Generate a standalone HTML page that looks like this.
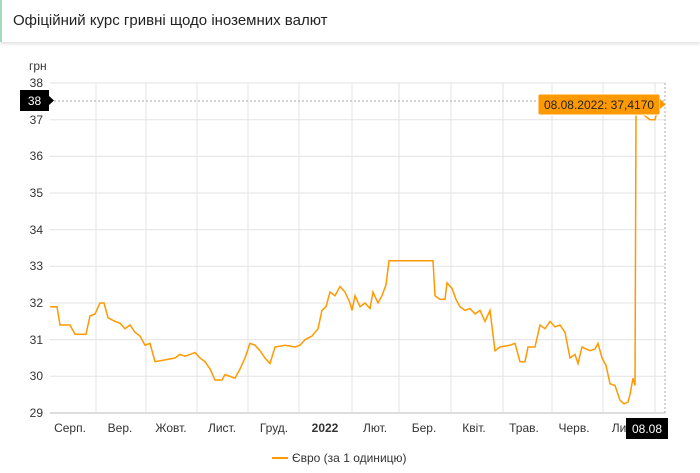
<!DOCTYPE html>
<html><head><meta charset="utf-8"><style>
body{margin:0;background:#fff;width:700px;height:473px;overflow:hidden;font-family:"Liberation Sans",sans-serif}
.hdr{position:absolute;left:0;top:0;width:700px;height:42px;border-left:2px solid #9fdcc0;box-shadow:0 2px 3px rgba(0,0,0,.12);box-sizing:border-box}
.hdr span{position:absolute;left:11px;top:12px;font-size:15px;color:#222}
</style></head><body>
<div class="hdr"><span>Офіційний курс гривні щодо іноземних валют</span></div>
<svg width="700" height="473" style="position:absolute;left:0;top:0" font-family="Liberation Sans, sans-serif">
<g stroke="#e3e3e3" stroke-width="1">
<line x1="50" y1="83" x2="665" y2="83"/><line x1="50" y1="119.7" x2="665" y2="119.7"/>
<line x1="50" y1="156.3" x2="665" y2="156.3"/><line x1="50" y1="193" x2="665" y2="193"/>
<line x1="50" y1="229.7" x2="665" y2="229.7"/><line x1="50" y1="266.3" x2="665" y2="266.3"/>
<line x1="50" y1="303" x2="665" y2="303"/><line x1="50" y1="339.7" x2="665" y2="339.7"/>
<line x1="50" y1="376.3" x2="665" y2="376.3"/>
<line x1="96" y1="83" x2="96" y2="413"/><line x1="146" y1="83" x2="146" y2="413"/>
<line x1="197" y1="83" x2="197" y2="413"/><line x1="248" y1="83" x2="248" y2="413"/>
<line x1="299" y1="83" x2="299" y2="413"/><line x1="352" y1="83" x2="352" y2="413"/>
<line x1="399" y1="83" x2="399" y2="413"/><line x1="451" y1="83" x2="451" y2="413"/>
<line x1="503" y1="83" x2="503" y2="413"/><line x1="552" y1="83" x2="552" y2="413"/>
<line x1="603" y1="83" x2="603" y2="413"/><line x1="655" y1="83" x2="655" y2="413"/>
</g>
<line x1="50" y1="413" x2="665" y2="413" stroke="#ddd" stroke-width="2"/>
<line x1="50" y1="101" x2="665" y2="101" stroke="#aaa" stroke-dasharray="2,2"/>
<line x1="665" y1="83" x2="665" y2="413" stroke="#aaa" stroke-dasharray="2,2"/>
<g font-size="12" fill="#333" text-anchor="end">
<text x="43" y="87">38</text><text x="43" y="124">37</text><text x="43" y="160">36</text>
<text x="43" y="197">35</text><text x="43" y="234">34</text><text x="43" y="270">33</text>
<text x="43" y="307">32</text><text x="43" y="344">31</text><text x="43" y="380">30</text>
<text x="43" y="417">29</text>
</g>
<text x="29" y="70" font-size="12" fill="#333">грн</text>
<g font-size="12" fill="#333" text-anchor="middle">
<text x="70" y="432">Серп.</text><text x="120" y="432">Вер.</text><text x="171" y="432">Жовт.</text>
<text x="222" y="432">Лист.</text><text x="274" y="432">Груд.</text><text x="325" y="432" font-weight="bold">2022</text>
<text x="375" y="432">Лют.</text><text x="424" y="432">Бер.</text><text x="474" y="432">Квіт.</text>
<text x="524" y="432">Трав.</text><text x="574" y="432">Черв.</text><text x="624" y="432">Лип.</text>
</g>
<path id="ln" fill="none" stroke="#f90" stroke-width="1.5"/>
<rect x="20" y="90" width="29" height="21" fill="#000"/><path d="M49 96 L54 100.5 L49 105Z" fill="#000"/>
<text x="34.5" y="105" font-size="12" fill="#fff" text-anchor="middle">38</text>
<rect x="626" y="418" width="42" height="21" fill="#000"/>
<text x="647" y="433" font-size="12" fill="#fff" text-anchor="middle">08.08</text>
<rect x="538" y="94" width="122" height="21" rx="2" fill="#f90" stroke="#fff" stroke-width="1"/>
<path d="M660 99 L665 104 L660 109Z" fill="#f90"/>
<text x="599" y="109" font-size="12" fill="#222" text-anchor="middle">08.08.2022: 37,4170</text>
<line x1="272" y1="458" x2="288" y2="458" stroke="#f90" stroke-width="2"/>
<text x="292" y="462" font-size="12" fill="#333">Євро (за 1 одиницю)</text>
</svg>
<script>
var d=[50,31.9,57,31.9,60,31.4,70,31.4,75,31.15,86,31.15,90,31.65,95,31.7,100,32,104,32,108,31.6,115,31.5,120,31.45,125,31.3,130,31.4,135,31.2,140,31.1,145,30.85,150,30.9,155,30.4,165,30.45,175,30.5,180,30.6,185,30.55,190,30.6,195,30.65,200,30.5,205,30.4,210,30.2,215,29.9,222,29.9,225,30.05,235,29.95,240,30.2,245,30.5,250,30.9,255,30.85,260,30.7,265,30.5,270,30.35,275,30.8,285,30.85,295,30.8,300,30.85,305,31,312,31.1,318,31.3,322,31.8,326,31.9,330,32.3,335,32.2,340,32.45,345,32.3,350,32,352,31.8,355,32.2,360,31.9,365,32,370,31.85,373,32.3,378,32,382,32.2,386,32.5,389,33.15,433,33.15,435,32.2,440,32.1,445,32.1,447,32.55,452,32.4,456,32.1,460,31.9,465,31.8,470,31.85,475,31.7,480,31.8,485,31.5,490,31.8,495,30.7,500,30.8,510,30.85,515,30.9,520,30.4,525,30.4,528,30.8,535,30.8,540,31.4,545,31.3,550,31.5,555,31.35,560,31.4,565,31.2,570,30.5,575,30.6,578,30.35,582,30.8,586,30.75,590,30.7,595,30.75,598,30.9,602,30.5,606,30.3,610,29.8,615,29.75,620,29.35,624,29.25,628,29.3,630,29.5,633,29.95,635,29.75,636,37.2,640,37.3,645,37.1,650,37,655,37,658,37.3,665,37.42];
var s="";for(var i=0;i<d.length;i+=2){s+=(i?"L":"M")+d[i]+" "+(83+(38-d[i+1])*36.67).toFixed(1);}
document.getElementById("ln").setAttribute("d",s);
</script>
</body></html>
